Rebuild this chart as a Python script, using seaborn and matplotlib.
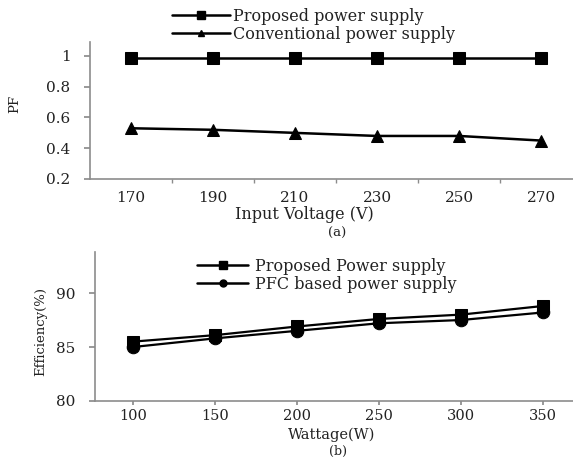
import matplotlib
matplotlib.use("Agg")
import matplotlib.pyplot as plt
import seaborn as sns
import pandas as pd
import numpy as np
from matplotlib.lines import Line2D

# ---- data ----
voltages = ["170", "190", "210", "230", "250", "270"]
pf_proposed = [0.99, 0.99, 0.99, 0.99, 0.99, 0.99]
pf_conventional = [0.53, 0.52, 0.50, 0.48, 0.48, 0.45]

wattages = ["100", "150", "200", "250", "300", "350"]
eff_proposed = [85.5, 86.1, 86.9, 87.6, 88.0, 88.8]
eff_pfc = [85.0, 85.8, 86.5, 87.2, 87.5, 88.2]

sns.set_theme(style="white")
plt.rcParams["font.family"] = ["DejaVu Serif", "Liberation Serif"]
TXT = "#222222"
SP = "#8c8c8c"
FS = 11
FL = 11.5

W, H = 573, 459
fig = plt.figure(figsize=(W / 100, H / 100), dpi=100)
ft = fig.transFigure

def frac(l, r, t, b):
    return [l / W, 1 - b / H, (r - l) / W, (b - t) / H]

def style_axes(ax):
    for s in ["top", "right"]:
        ax.spines[s].set_visible(False)
    for s in ["left", "bottom"]:
        ax.spines[s].set_color(SP)
        ax.spines[s].set_linewidth(1.2)

# ---------- panel (a) ----------
ax1 = fig.add_axes(frac(90, 573, 41.7, 179))
df_a = pd.DataFrame({
    "x": list(range(len(voltages))) * 2,
    "y": pf_proposed + pf_conventional,
    "s": ["Proposed power supply"] * len(voltages) + ["Conventional power supply"] * len(voltages),
})
sns.lineplot(data=df_a, x="x", y="y", hue="s", style="s",
             palette=["black", "black"], markers=["s", "^"], dashes=False,
             markersize=9, linewidth=1.8, markeredgecolor="black", ax=ax1, legend=False)
ax1.set_xlim(-0.5, -0.5 + 483 / 82)
ax1.set_ylim(0.2, 1.093)
ax1.set_yticks([0.2, 0.4, 0.6, 0.8, 1.0])
ax1.set_yticklabels(["0.2", "0.4", "0.6", "0.8", "1"])
ax1.set_xticks(range(len(voltages)))
ax1.set_xticklabels(voltages)
ax1.set_xticks(np.arange(0.5, 5.0, 1.0), minor=True)
ax1.tick_params(axis="x", which="major", length=0, pad=9, labelsize=FS, colors=TXT)
ax1.tick_params(axis="x", which="minor", length=3, color=SP, direction="out", bottom=True)
ax1.tick_params(axis="y", length=4, color=SP, pad=10, labelsize=FS, colors=TXT, left=True)
ax1.set_xlabel("Input Voltage (V)", fontsize=FL, color=TXT)
ax1.xaxis.set_label_coords(304 / W, 1 - 214 / H, transform=ft)
ax1.xaxis.label.set_va("center")
ax1.set_ylabel("PF", fontsize=9.5, color=TXT)
ax1.yaxis.set_label_coords(15 / W, 1 - 104 / H, transform=ft)
ax1.yaxis.label.set_va("center")
style_axes(ax1)

h1 = [Line2D([], [], color="black", marker="s", markersize=6, lw=1.8),
      Line2D([], [], color="black", marker="^", markersize=5, lw=1.8)]
fig.legend(h1, ["Proposed power supply", "Conventional power supply"],
           loc="upper left", bbox_to_anchor=(172 / W, 1 - 8 / H), frameon=False,
           fontsize=FL, handlelength=3.6, handletextpad=0.25, labelspacing=0.05,
           borderpad=0, borderaxespad=0, labelcolor=TXT)
fig.text(337 / W, 1 - 233 / H, "(a)", ha="center", va="center", fontsize=9.5, color=TXT)

# ---------- panel (b) ----------
ax2 = fig.add_axes(frac(95, 573, 252, 401))
df_b = pd.DataFrame({
    "x": list(range(len(wattages))) * 2,
    "y": eff_proposed + eff_pfc,
    "s": ["Proposed Power supply"] * len(wattages) + ["PFC based power supply"] * len(wattages),
})
sns.lineplot(data=df_b, x="x", y="y", hue="s", style="s",
             palette=["black", "black"], markers=["s", "o"], dashes=False,
             markersize=9, linewidth=1.6, markeredgecolor="black", ax=ax2, legend=False)
ax2.set_xlim(-38 / 82, 440 / 82)
ax2.set_ylim(80, 93.8)
ax2.set_yticks([80, 85, 90])
ax2.set_xticks(range(len(wattages)))
ax2.set_xticklabels(wattages)
ax2.tick_params(axis="x", length=3, color=SP, pad=3, labelsize=10.5, colors=TXT, bottom=True)
ax2.tick_params(axis="y", length=4, color=SP, pad=10, labelsize=FS, colors=TXT, left=True)
ax2.set_xlabel("Wattage(W)", fontsize=10.5, color=TXT)
ax2.xaxis.set_label_coords(332 / W, 1 - 434.5 / H, transform=ft)
ax2.xaxis.label.set_va("center")
ax2.set_ylabel("Efficiency(%)", fontsize=9.5, color=TXT)
ax2.yaxis.set_label_coords(41 / W, 1 - 332 / H, transform=ft)
ax2.yaxis.label.set_va("center")
style_axes(ax2)

h2 = [Line2D([], [], color="black", marker="s", markersize=6, lw=1.8),
      Line2D([], [], color="black", marker="o", markersize=5, lw=1.8)]
ax2.legend(h2, ["Proposed Power supply", "PFC based power supply"],
           loc="upper left", bbox_to_anchor=(197 / W, 1 - 258 / H),
           bbox_transform=ft, frameon=False,
           fontsize=FL, handlelength=3.2, handletextpad=0.45, labelspacing=0.05,
           borderpad=0, borderaxespad=0, labelcolor=TXT)
fig.text(338 / W, 1 - 451.5 / H, "(b)", ha="center", va="center", fontsize=9, color=TXT)

fig.savefig("out.png", dpi=100)
